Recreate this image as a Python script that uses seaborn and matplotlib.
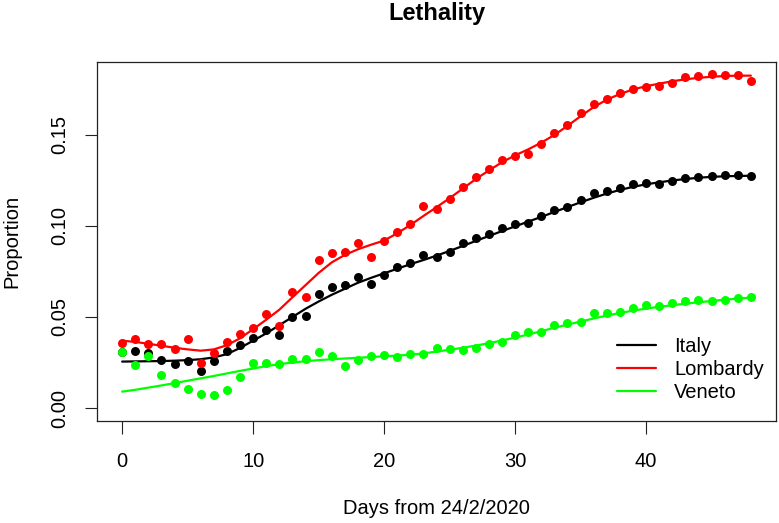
# Lethality by region, points + smooth fits
import numpy as np
import pandas as pd
import seaborn as sns
import matplotlib
matplotlib.use('Agg')
import matplotlib.pyplot as plt

days = list(range(49))

italy_pts = [0.0310, 0.0313, 0.0304, 0.0264, 0.0240, 0.0260, 0.0203, 0.0256, 0.0315, 0.0348,
             0.0387, 0.0427, 0.0399, 0.0498, 0.0507, 0.0625, 0.0663, 0.0674, 0.0722, 0.0683,
             0.0733, 0.0773, 0.0799, 0.0840, 0.0831, 0.0859, 0.0905, 0.0932, 0.0954, 0.0991,
             0.1011, 0.1015, 0.1057, 0.1088, 0.1106, 0.1143, 0.1180, 0.1192, 0.1210, 0.1229,
             0.1235, 0.1233, 0.1249, 0.1265, 0.1271, 0.1275, 0.1278, 0.1280, 0.1275]
lomb_pts = [0.0355, 0.0378, 0.0352, 0.0351, 0.0322, 0.0377, 0.0249, 0.0304, 0.0364, 0.0405,
            0.0438, 0.0517, 0.0452, 0.0639, 0.0612, 0.0811, 0.0850, 0.0855, 0.0908, 0.0828,
            0.0919, 0.0969, 0.1013, 0.1110, 0.1093, 0.1147, 0.1216, 0.1271, 0.1315, 0.1363,
            0.1385, 0.1396, 0.1451, 0.1509, 0.1553, 0.1619, 0.1669, 0.1696, 0.1733, 0.1751,
            0.1766, 0.1769, 0.1788, 0.1817, 0.1824, 0.1833, 0.1830, 0.1830, 0.1798]
veneto_pts = [0.0306, 0.0235, 0.0286, 0.0181, 0.0136, 0.0106, 0.0075, 0.0073, 0.0099, 0.0169,
              0.0249, 0.0249, 0.0240, 0.0269, 0.0269, 0.0306, 0.0286, 0.0233, 0.0264, 0.0286,
              0.0293, 0.0280, 0.0298, 0.0295, 0.0332, 0.0326, 0.0319, 0.0330, 0.0350, 0.0364,
              0.0401, 0.0416, 0.0419, 0.0458, 0.0469, 0.0474, 0.0524, 0.0520, 0.0528, 0.0548,
              0.0564, 0.0562, 0.0575, 0.0586, 0.0593, 0.0586, 0.0592, 0.0603, 0.0608]

italy_fit = [0.0255, 0.0256, 0.0257, 0.0258, 0.0260, 0.0263, 0.0268, 0.0278, 0.0296, 0.0330,
             0.0370, 0.0410, 0.0455, 0.0500, 0.0545, 0.0585, 0.0622, 0.0655, 0.0688, 0.0715,
             0.0740, 0.0765, 0.0790, 0.0813, 0.0837, 0.0863, 0.0890, 0.0918, 0.0945, 0.0972,
             0.0998, 0.1024, 0.1050, 0.1077, 0.1104, 0.1130, 0.1155, 0.1178, 0.1198, 0.1215,
             0.1229, 0.1240, 0.1250, 0.1258, 0.1265, 0.1270, 0.1273, 0.1275, 0.1276]
lomb_fit = [0.0370, 0.0363, 0.0353, 0.0342, 0.0331, 0.0322, 0.0315, 0.0322, 0.0345, 0.0383,
            0.0433, 0.0485, 0.0540, 0.0608, 0.0675, 0.0742, 0.0800, 0.0841, 0.0872, 0.0897,
            0.0920, 0.0960, 0.1005, 0.1055, 0.1103, 0.1153, 0.1205, 0.1258, 0.1305, 0.1350,
            0.1388, 0.1421, 0.1458, 0.1500, 0.1550, 0.1603, 0.1653, 0.1694, 0.1725, 0.1750,
            0.1768, 0.1782, 0.1795, 0.1806, 0.1814, 0.1820, 0.1824, 0.1826, 0.1826]
veneto_fit = [0.0090, 0.0100, 0.0112, 0.0124, 0.0137, 0.0150, 0.0163, 0.0176, 0.0190, 0.0204,
              0.0217, 0.0230, 0.0241, 0.0250, 0.0257, 0.0263, 0.0268, 0.0272, 0.0276, 0.0280,
              0.0284, 0.0288, 0.0293, 0.0300, 0.0310, 0.0320, 0.0331, 0.0343, 0.0356, 0.0371,
              0.0387, 0.0404, 0.0422, 0.0441, 0.0458, 0.0475, 0.0492, 0.0508, 0.0522, 0.0535,
              0.0546, 0.0556, 0.0565, 0.0573, 0.0581, 0.0588, 0.0595, 0.0601, 0.0607]

regions = ['Italy', 'Lombardy', 'Veneto']
colors = ['#000000', '#ff0000', '#00ff00']

sns.set_style('ticks')
plt.rcParams['font.family'] = ['Liberation Sans', 'DejaVu Sans']
plt.rcParams['text.color'] = 'black'
plt.rcParams['axes.labelcolor'] = 'black'
plt.rcParams['xtick.color'] = 'black'
plt.rcParams['ytick.color'] = 'black'

fig = plt.figure(figsize=(7.79, 5.23), dpi=100)
ax = fig.add_axes([97 / 779, 102 / 523, 679 / 779, 359 / 523])

series = zip(regions, [italy_pts, lomb_pts, veneto_pts],
             [italy_fit, lomb_fit, veneto_fit], colors)
for name, pts, fit, col in series:
    sns.scatterplot(x=days, y=pts, color=col, s=42, linewidth=0, ax=ax, zorder=3)
    sns.lineplot(x=days, y=fit, color=col, lw=1.6, ax=ax, label=name, zorder=3)

ax.set_xlim(-1.92, 49.92)
ax.set_ylim(-0.00714, 0.1901)
ax.set_xticks([0, 10, 20, 30, 40])
ax.set_yticks([0, 0.05, 0.10, 0.15])
ax.set_yticklabels(['0.00', '0.05', '0.10', '0.15'], rotation=90, va='center')
ax.tick_params(axis='both', length=9, width=0.8, labelsize=14.5,
               color='#222222', labelcolor='black')
ax.tick_params(axis='x', pad=13)
ax.tick_params(axis='y', pad=11)
for sp in ax.spines.values():
    sp.set_visible(True)
    sp.set_linewidth(0.9)
    sp.set_color('#222222')

ax.set_xlabel('Days from 24/2/2020', fontsize=14.5)
ax.xaxis.set_label_coords(0.5, (421 - 499) / 359)
ax.set_ylabel('Proportion', fontsize=14.5, va='center')
ax.yaxis.set_label_coords((12 - 97) / 679, 0.5)

fig.text(436.5 / 779, 1 - 20 / 523, 'Lethality', ha='center', va='baseline',
         fontsize=17, fontweight='bold', color='black')

handles, labels = ax.get_legend_handles_labels()
ax.legend(handles, labels, loc='upper left', bbox_to_anchor=(617 / 779, 1 - 337 / 523),
          bbox_transform=fig.transFigure, frameon=False, fontsize=14.5,
          handlelength=1.95, handletextpad=0.9, labelspacing=0.2,
          borderpad=0, borderaxespad=0)

fig.savefig('out.png', dpi=100)
